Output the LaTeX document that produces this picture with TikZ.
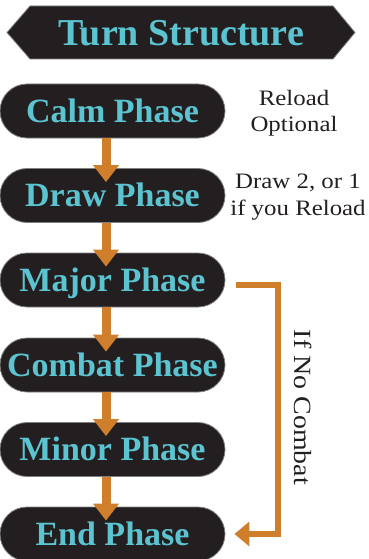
\documentclass[tikz,border=0pt]{standalone}
\usepackage{fontspec}
\setmainfont{Liberation Serif}
\newfontfamily\notefont[FakeStretch=1.13]{Liberation Serif}
\usetikzlibrary{arrows.meta,positioning}
\definecolor{boxdark}{HTML}{231F20}
\definecolor{boxteal}{HTML}{5CC3D0}
\definecolor{flowor}{HTML}{CF7F2C}
\tikzset{
  phase/.style={rectangle, rounded corners=27pt, minimum width=225pt, minimum height=54pt,
    fill=boxdark, draw=black!50, line width=0.8pt, text=boxteal, inner sep=0pt,
    font=\bfseries\fontsize{34}{40}\selectfont, text height=22.5pt, text depth=0pt},
  note/.style={align=center, inner sep=0pt, text=boxdark,
    font=\notefont\fontsize{22}{26.5}\selectfont},
  flow/.style={draw=flowor, line width=9pt, -{Triangle[width=25pt,length=17pt]}},
  bypass/.style={draw=flowor, line width=5.5pt, -{Triangle[width=24pt,length=15pt]}}
}
\begin{document}
\begin{tikzpicture}[x=1pt,y=-1pt]
\useasboundingbox (0,0) rectangle (368,559);
% title banner
\fill[boxdark, draw=black!50, line width=0.8pt] (7,32.5) -- (30,6) -- (333,6) -- (355,32.5) -- (333,59) -- (30,59) -- cycle;
\node[text=boxteal, inner sep=0pt, font=\bfseries\fontsize{38}{44}\selectfont, text height=25pt, text depth=0pt] (title) at (181,33.5) {Turn Structure};
% phases
\node[phase] (calm) at (112.5,111) {Calm Phase};
\node[phase] (drawp) at (112.5,195.5) {Draw Phase};
\node[phase] (major) at (112.5,280) {Major Phase};
\node[phase] (combat) at (112.5,365) {Combat Phase};
\node[phase] (minor) at (112.5,449.5) {Minor Phase};
\node[phase] (endp) at (112.5,534) {End Phase};
% notes
\node[note, anchor=north] (n1) at (294,90) {Reload\\Optional};
\node[note, anchor=north] (n2) at (298,174) {Draw 2, or 1\\if you Reload};
\node[inner sep=0pt, rotate=-90, text=boxdark, font=\notefont\fontsize{24.7}{30}\selectfont] (nc) at (303.5,407.5) {If No Combat};
% flow arrows
\draw[flow] ([xshift=-6.5pt]calm.south) -- ([xshift=-6.5pt,yshift=-14pt]drawp.north);
\draw[flow] ([xshift=-6.5pt]drawp.south) -- ([xshift=-6.5pt,yshift=-14pt]major.north);
\draw[flow] ([xshift=-6.5pt]major.south) -- ([xshift=-6.5pt,yshift=-14pt]combat.north);
\draw[flow] ([xshift=-6.5pt]combat.south) -- ([xshift=-6.5pt,yshift=-14pt]minor.north);
\draw[flow] ([xshift=-6.5pt]minor.south) -- ([xshift=-6.5pt,yshift=-14pt]endp.north);
% bypass
\coordinate (bstart) at ([xshift=11pt,yshift=-5pt]major.east);
\coordinate (bcorner) at ([xshift=52.5pt,yshift=-5pt]major.east);
\draw[bypass] (bstart) -- (bcorner) |- ([xshift=9pt]endp.east);
\end{tikzpicture}
\end{document}
